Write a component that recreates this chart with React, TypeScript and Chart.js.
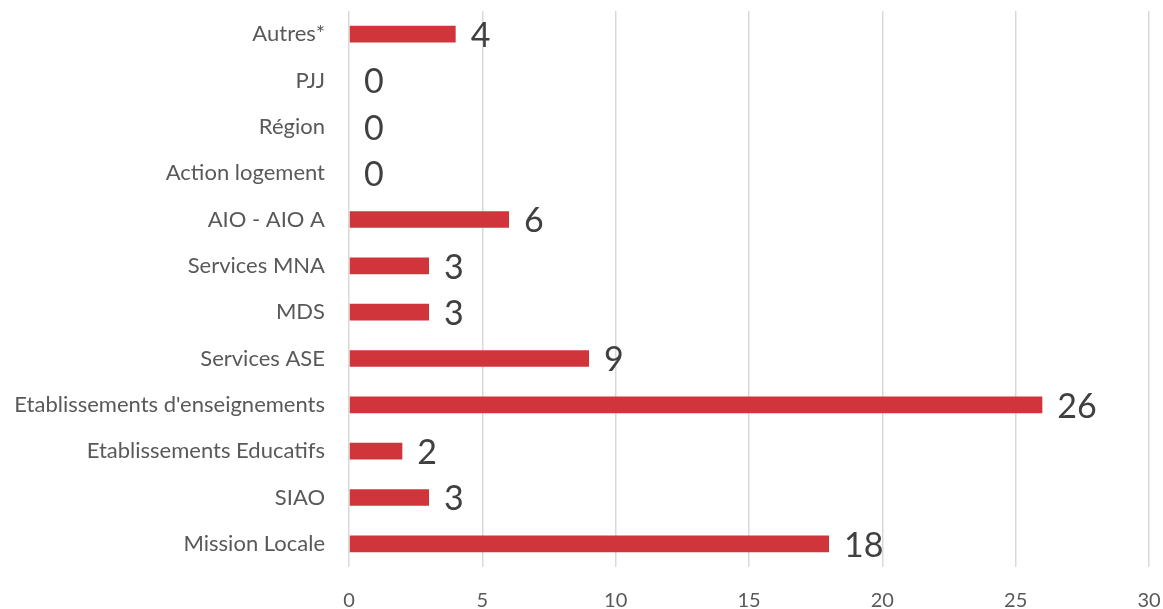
import React, { useEffect, useRef } from "react";
import { Chart, registerables } from "chart.js";

Chart.register(...registerables);

const categories = [
  "Autres*",
  "PJJ",
  "Région",
  "Action logement",
  "AIO - AIO A",
  "Services MNA",
  "MDS",
  "Services ASE",
  "Etablissements d'enseignements",
  "Etablissements Educatifs",
  "SIAO",
  "Mission Locale",
];
const values = [4, 0, 0, 0, 6, 3, 3, 9, 26, 2, 3, 18];
const xTicks = [0, 5, 10, 15, 20, 25, 30];

const FONT = "Lato, 'Open Sans', sans-serif";

const valueLabels = {
  id: "valueLabels",
  afterDatasetsDraw(chart: any) {
    const ctx = chart.ctx;
    const meta = chart.getDatasetMeta(0);
    ctx.save();
    ctx.font = `34px ${FONT}`;
    ctx.fillStyle = "#404040";
    ctx.textAlign = "left";
    ctx.textBaseline = "middle";
    meta.data.forEach((el: any, i: number) => {
      ctx.fillText(String(values[i]), el.x + 15, el.y + 2);
    });
    ctx.restore();
  },
};

export default function App() {
  const ref = useRef<HTMLCanvasElement | null>(null);
  useEffect(() => {
    document.body.style.margin = "0";
    const chart = new Chart(ref.current as HTMLCanvasElement, {
      type: "bar",
      data: {
        labels: categories,
        datasets: [
          {
            data: values,
            backgroundColor: "#d0353c",
            barPercentage: 0.36,
            categoryPercentage: 1,
          },
        ],
      },
      options: {
        indexAxis: "y",
        animation: false,
        responsive: false,
        devicePixelRatio: 1,
        layout: { padding: { top: 11, right: 14, left: 0, bottom: 0 } },
        plugins: { legend: { display: false }, tooltip: { enabled: false } },
        scales: {
          x: {
            min: 0,
            max: 30,
            afterBuildTicks: (s: any) => {
              s.ticks = xTicks.map((v) => ({ value: v }));
            },
            afterFit: (s: any) => {
              s.paddingLeft = 0;
              s.paddingRight = 0;
              s.height = 51;
            },
            grid: { color: "#d9d9d9", lineWidth: 1.5, drawTicks: false },
            border: { display: false },
            ticks: { color: "#595959", font: { family: FONT, size: 20 }, padding: 22 },
          },
          y: {
            afterFit: (s: any) => {
              s.width = 349;
              s.paddingTop = 0;
              s.paddingBottom = 0;
            },
            grid: { display: false, drawTicks: false },
            border: { display: false },
            ticks: { color: "#595959", font: { family: FONT, size: 22 }, padding: 24 },
          },
        },
      },
      plugins: [valueLabels],
    });
    return () => chart.destroy();
  }, []);
  return (
    <div style={{ width: 1163, height: 609, overflow: "hidden" }}>
      <canvas ref={ref} width={1163} height={618} style={{ display: "block" }} />
    </div>
  );
}
